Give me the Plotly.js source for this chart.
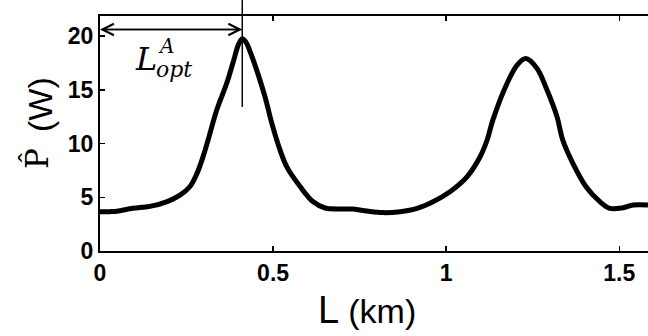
<!DOCTYPE html>
<html>
<head>
<meta charset="utf-8">
<script src="https://cdn.plot.ly/plotly-3.0.1.min.js"></script>
<style>html,body{margin:0;padding:0;overflow:hidden;background:#fff}</style>
</head>
<body>
<div id="chart" style="width:648px;height:336px"></div>
<script>
// Fiber length L (km) and averaged power P-hat (W)
const lengthKm = [0.000, 0.029, 0.049, 0.095, 0.144, 0.194, 0.231, 0.260, 0.280, 0.298, 0.312, 0.337, 0.366, 0.385, 0.400, 0.411,
  0.422, 0.433, 0.456, 0.477, 0.497, 0.520, 0.540, 0.578, 0.615, 0.650, 0.731, 0.771, 0.817, 0.867, 0.916, 0.962, 1.011, 1.060, 1.098,
  1.118, 1.135, 1.176, 1.205, 1.230, 1.262, 1.291, 1.320, 1.337, 1.366, 1.404, 1.444, 1.473, 1.511, 1.540, 1.583];
const powerW = [3.65, 3.66, 3.70, 3.97, 4.15, 4.60, 5.20, 6.00, 7.20, 8.80, 10.3, 13.1, 15.6, 17.6, 19.2, 19.75,
  19.4, 18.6, 16.5, 14.3, 11.8, 9.4, 7.8, 6.0, 4.6, 4.0, 3.9, 3.72, 3.57, 3.66, 3.97, 4.59, 5.52, 6.9, 8.77,
  10.3, 12.2, 15.6, 17.3, 17.9, 17.0, 15.0, 12.5, 10.3, 8.16, 5.98, 4.59, 3.97, 4.03, 4.28, 4.28];

const xTickVals = [0, 0.5, 1, 1.5];
const xTickText = ['0', '0.5', '1', '1.5'];
const yTickVals = [0, 5, 10, 15, 20];
const yTickText = ['0', '5', '10', '15', '20'];

// Optimal length marker (annotation)
const lOpt = 0.411;
const arrowLevel = 20.6;
const markerBottom = 13.4;

const xRange = [0, 1.583];
const yRange = [0, 21.86];

const trace = {
  x: lengthKm, y: powerW, type: 'scatter', mode: 'lines',
  line: {color: '#000', width: 5, shape: 'spline', smoothing: 1},
  hoverinfo: 'skip'
};

const tickFont = {family: 'Liberation Sans, Arial, sans-serif', size: 23, weight: 'bold', color: '#000'};

const layout = {
  width: 648, height: 336,
  margin: {l: 100, r: 0, t: 16, b: 85, pad: 0},
  paper_bgcolor: '#fff', plot_bgcolor: '#fff',
  showlegend: false,
  font: {family: 'Liberation Sans, Arial, sans-serif', color: '#000'},
  xaxis: {
    range: xRange, showgrid: false, zeroline: false,
    showline: true, linecolor: '#000', linewidth: 2, mirror: 'ticks',
    ticks: 'inside', ticklen: 5, tickwidth: 1.5, tickcolor: '#000',
    tickvals: xTickVals, ticktext: xTickText, tickfont: tickFont
  },
  yaxis: {
    range: yRange, showgrid: false, zeroline: false,
    showline: true, linecolor: '#000', linewidth: 2, mirror: false,
    ticks: 'inside', ticklen: 5, tickwidth: 1.5, tickcolor: '#000',
    tickvals: yTickVals, ticktext: yTickText, tickfont: tickFont
  },
  shapes: [
    {type: 'line', xref: 'x', yref: 'paper', x0: lOpt, x1: lOpt,
     y0: markerBottom / yRange[1], y1: 1.08, line: {color: '#000', width: 1.5}}
  ],
  annotations: [
    {xref: 'x', yref: 'y', axref: 'x', ayref: 'y', x: 0, y: arrowLevel, ax: lOpt, ay: arrowLevel,
     text: '', showarrow: true, arrowhead: 5, arrowsize: 1.5, arrowwidth: 1.5, arrowcolor: '#000', standoff: 0, startstandoff: 0},
    {xref: 'x', yref: 'y', axref: 'x', ayref: 'y', x: lOpt, y: arrowLevel, ax: 0, ay: arrowLevel,
     text: '', showarrow: true, arrowhead: 5, arrowsize: 1.5, arrowwidth: 1.5, arrowcolor: '#000', standoff: 0, startstandoff: 0},
    {xref: 'x', yref: 'y', x: 0.133, y: 17.9, text: '<i>L</i>', showarrow: false, borderpad: 0,
     xanchor: 'center', yanchor: 'middle',
     font: {family: 'DejaVu Serif, serif', size: 32, color: '#000'}},
    {xref: 'x', yref: 'y', x: 0.158, y: 16.9, text: '<i>opt</i>', showarrow: false, borderpad: 0,
     xanchor: 'left', yanchor: 'middle',
     font: {family: 'DejaVu Serif, serif', size: 22, color: '#000'}},
    {xref: 'x', yref: 'y', x: 0.19, y: 19.1, text: '<i>A</i>', showarrow: false, borderpad: 0,
     xanchor: 'center', yanchor: 'middle',
     font: {family: 'DejaVu Serif, serif', size: 20, color: '#000'}},
    {xref: 'paper', yref: 'paper', x: (367 - 100) / 548, y: -(310 - 251) / 235,
     xanchor: 'center', yanchor: 'middle',
     text: 'L <span style="font-size:34px">(km)</span>',
     showarrow: false, font: {family: 'Liberation Sans, Arial, sans-serif', size: 38, color: '#000'}},
    {xref: 'paper', yref: 'paper', x: -(100 - 40) / 548, y: (251 - 105) / 235, textangle: -90,
     xanchor: 'center', yanchor: 'middle',
     text: '(W)', showarrow: false,
     font: {family: 'Liberation Sans, Arial, sans-serif', size: 34, color: '#000'}},
    {xref: 'paper', yref: 'paper', x: -(100 - 36) / 548, y: (251 - 159) / 235, textangle: -90,
     xanchor: 'center', yanchor: 'middle',
     text: 'P\u0302', showarrow: false,
     font: {family: 'DejaVu Serif, serif', size: 31, color: '#000'}}
  ]
};

Plotly.newPlot('chart', [trace], layout, {displayModeBar: false, staticPlot: true});
</script>
</body>
</html>
